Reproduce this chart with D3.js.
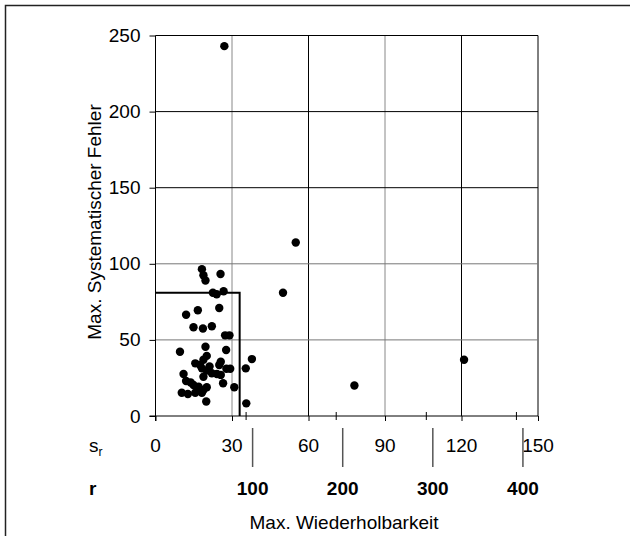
<!DOCTYPE html>
<html>
<head>
<meta charset="utf-8">
<script src="https://cdn.jsdelivr.net/npm/d3@7"></script>
<style>
  body { margin: 0; background: #fff; }
  svg { display: block; font-family: "Liberation Sans", Arial, sans-serif; }
  .axis path, .axis line { stroke: #000; }
</style>
</head>
<body>
<script>
// s_r (Wiederholstandardabweichung) vs. max. systematischer Fehler
const srValues = [27, 55, 50, 78, 121,
  18.2, 18.8, 19.6, 25.5, 22.5, 24, 26.7, 25, 16.6, 12,
  14.9, 18.6, 22.1, 27.3, 29, 9.6, 19.6, 27.7, 37.8, 35.4,
  35.6, 30.9, 26.5, 19.9,
  20.1, 18.8, 15.6, 17.5, 18.2, 20.1, 22.1, 24.1, 25.6, 25,
  25.6, 27.8, 29.3, 18.8, 21.2,
  11, 12, 10.3, 12.7, 14.9, 16.9, 18.8, 18.2, 20.1, 15.6, 17, 13.8]
const errValues = [243, 114, 81, 20, 37,
  96.5, 92.5, 89, 93.3, 81, 80, 82, 71, 69.5, 66.5,
  58.3, 57.5, 59, 53, 53, 42.2, 45.5, 43.4, 37.4, 31.3,
  8.3, 18.9, 21.5, 9.5,
  39.5, 37, 34.6, 33.5, 31.3, 29.8, 28.1, 27.6, 27, 33.5,
  35.7, 31, 31, 25.8, 32.5,
  27.6, 23, 15.3, 14.5, 20.4, 19.3, 17.1, 15.3, 18.9, 15.3, 17.5, 22]

const srTicks = [0, 30, 60, 90, 120, 150]
const rTicks = [100, 200, 300, 400]
const yTicks = [0, 50, 100, 150, 200, 250]
const limitSr = 33
const limitErr = 81
const rFactor = 2.83  // r = 2.83 * s_r

const data = srValues.map((s, i) => ({ sr: s, err: errValues[i] }))

const svg = d3.select('body').append('svg').attr('width', 630).attr('height', 536)

const x = d3.scaleLinear().domain([0, 150]).range([155.5, 538])
const xr = d3.scaleLinear().domain([0, 150 * rFactor]).range(x.range())
const y = d3.scaleLinear().domain([0, 250]).range([416, 35.5])

// frame
svg.append('path').attr('d', 'M5.5,536V5.5H630').attr('fill', 'none').attr('stroke', '#222').attr('stroke-width', 1.5)

// grid
const grayX = [30, 90]
const grayY = [50, 100]
svg.append('g').selectAll('line').data(srTicks.slice(1)).enter().append('line')
  .attr('x1', d => x(d)).attr('x2', d => x(d))
  .attr('y1', y(250)).attr('y2', y(0))
  .attr('stroke', d => grayX.includes(d) ? '#888' : '#000')
svg.append('g').selectAll('line').data(yTicks.slice(1)).enter().append('line')
  .attr('x1', x(0)).attr('x2', x(150))
  .attr('y1', d => y(d)).attr('y2', d => y(d))
  .attr('stroke', d => grayY.includes(d) ? '#777' : '#000')

// y axis
const axisY = d3.axisLeft(y).tickValues(yTicks).tickSize(6).tickPadding(9).tickSizeOuter(0)
const gy = svg.append('g').attr('class', 'axis').attr('transform', `translate(${x(0)},0)`).call(axisY)
gy.selectAll('text').attr('font-size', 19).attr('fill', '#000').attr('font-family', '"Liberation Sans", Arial, sans-serif')
gy.select('.domain').attr('d', `M0,${y(250)}V${y(0) + 5}`)

// x axis, major ticks downward, r ticks as small crosses
const axisX = d3.axisBottom(x).tickValues(srTicks).tickSize(5).tickFormat('').tickSizeOuter(0)
const gx = svg.append('g').attr('class', 'axis').attr('transform', `translate(0,${y(0)})`).call(axisX)
gx.select('.domain').attr('d', `M${x(0) - 6},0H${x(150)}`)
const axisR = d3.axisBottom(xr).tickValues(rTicks).tickSize(4).tickFormat('').tickSizeOuter(0)
const gr = svg.append('g').attr('class', 'axis').attr('transform', `translate(0,${y(0)})`).call(axisR)
gr.select('.domain').remove()
gr.selectAll('.tick line').attr('y1', -4)

// s_r labels row
svg.append('g').selectAll('text').data(srTicks).enter().append('text')
  .attr('x', d => x(d)).attr('y', 452).attr('text-anchor', 'middle')
  .attr('font-size', 19).text(d => d)
const sr = svg.append('text').attr('x', 89).attr('y', 452).attr('font-size', 19).text('s')
sr.append('tspan').attr('font-size', 12).attr('dy', 4).text('r')

// r separators and bold labels
const rOff = 7
svg.append('g').selectAll('line').data(rTicks).enter().append('line')
  .attr('x1', d => xr(d) + rOff).attr('x2', d => xr(d) + rOff)
  .attr('y1', 428).attr('y2', 467)
  .attr('stroke', '#555').attr('stroke-width', 1.5)
svg.append('g').selectAll('text').data(rTicks).enter().append('text')
  .attr('x', d => xr(d) + rOff).attr('y', 495).attr('text-anchor', 'middle')
  .attr('font-size', 19).attr('font-weight', 'bold').text(d => d)
svg.append('text').attr('x', 89).attr('y', 495).attr('font-size', 19).attr('font-weight', 'bold').text('r')

// titles
svg.append('text').attr('x', 344).attr('y', 529).attr('text-anchor', 'middle')
  .attr('font-size', 19).text('Max. Wiederholbarkeit')
svg.append('text').attr('transform', 'translate(101,222) rotate(-90)').attr('text-anchor', 'middle')
  .attr('font-size', 19).text('Max. Systematischer Fehler')

// limit box
svg.append('path')
  .attr('d', d3.line()([[x(0), y(limitErr)], [x(limitSr), y(limitErr)], [x(limitSr), y(0)]]))
  .attr('fill', 'none').attr('stroke', '#000').attr('stroke-width', 2)

// points
svg.append('g').selectAll('circle').data(data).enter().append('circle')
  .attr('cx', d => x(d.sr)).attr('cy', d => y(d.err)).attr('r', 4.2).attr('fill', '#000')
</script>
</body>
</html>
